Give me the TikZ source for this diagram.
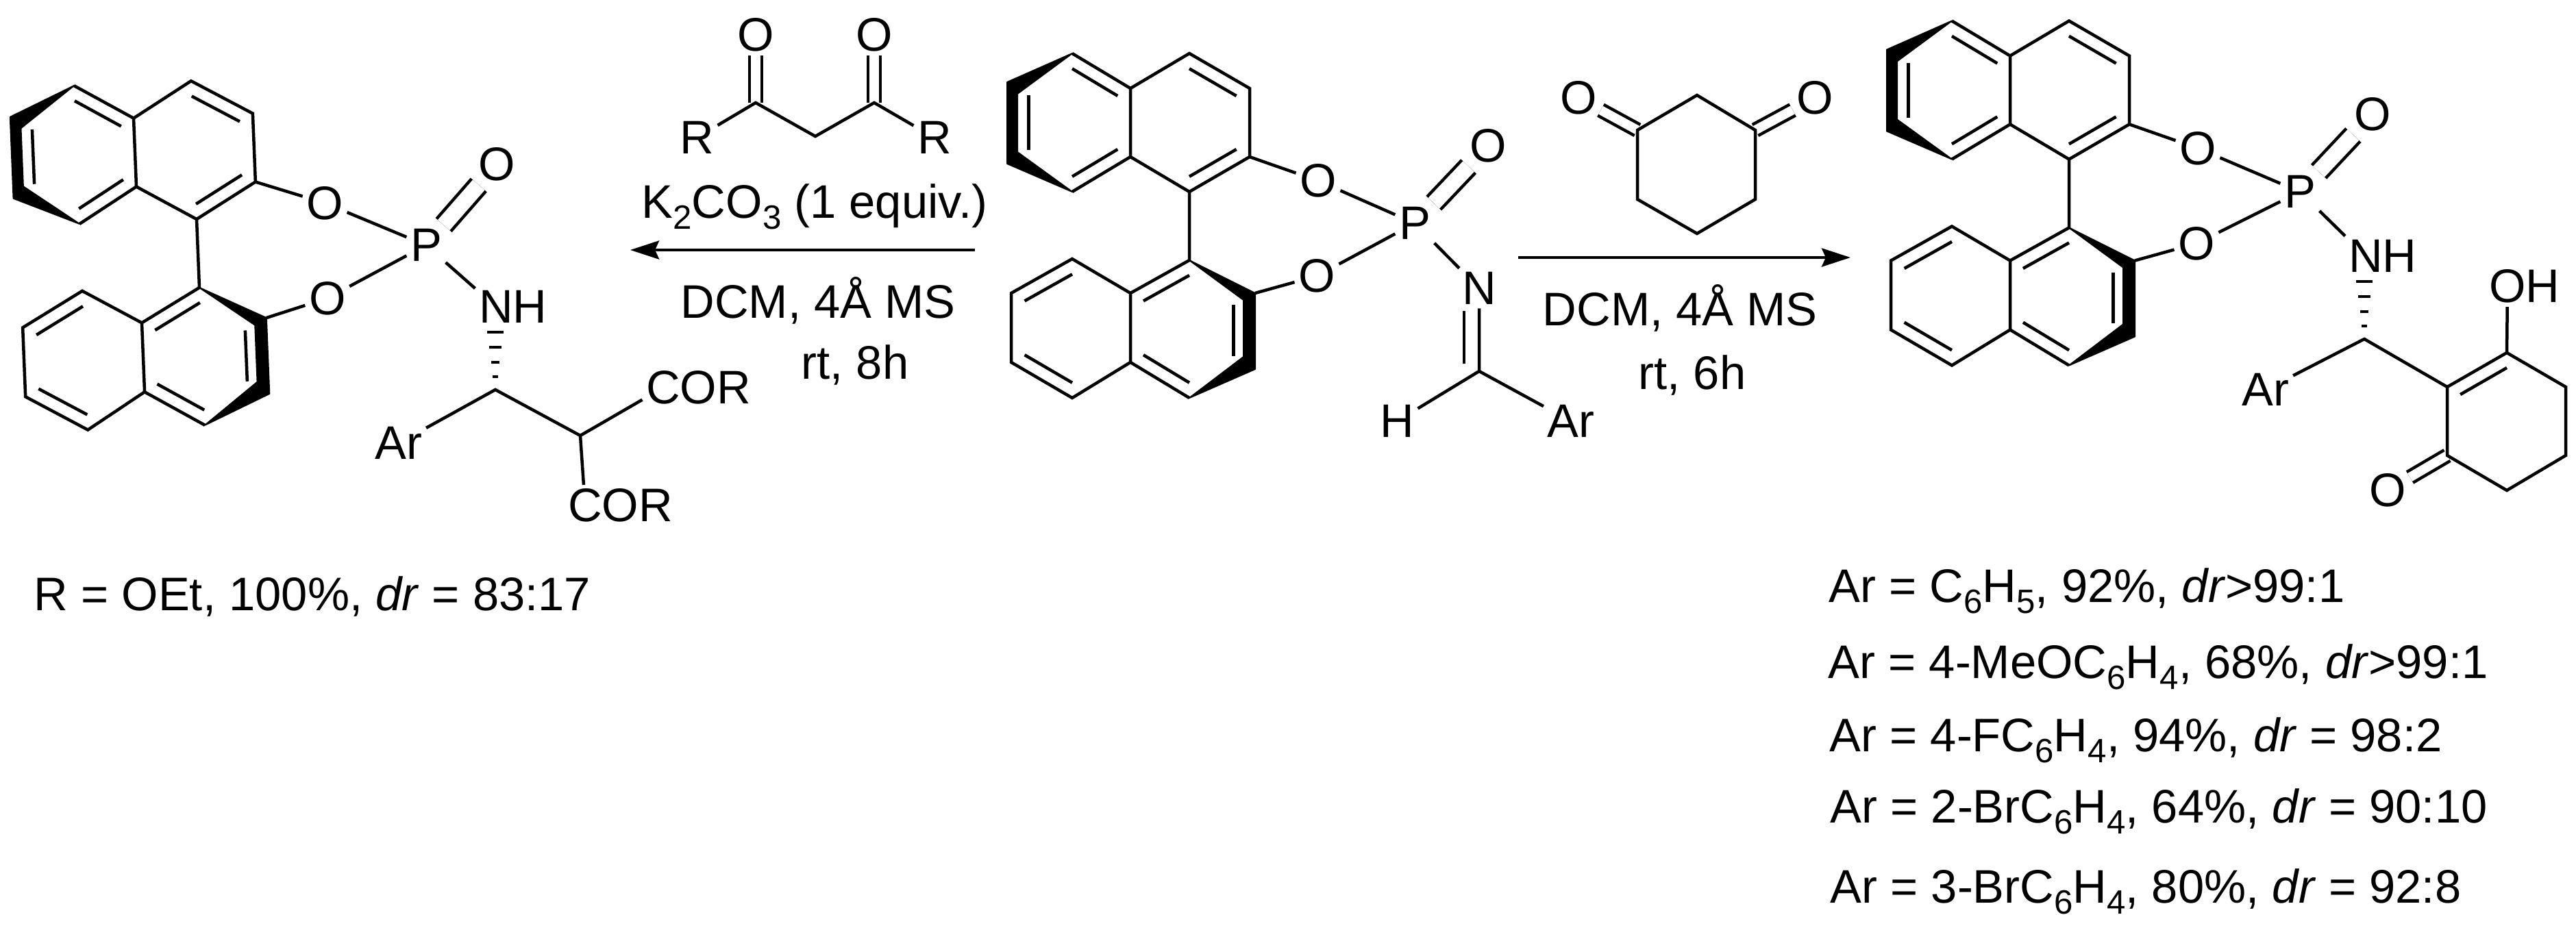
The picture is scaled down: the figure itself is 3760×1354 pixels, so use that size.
\documentclass[tikz,border=0pt]{standalone}
\usepackage{fontspec}
\setmainfont{Liberation Sans}
\usepackage{tikz}
\usetikzlibrary{calc}
\usetikzlibrary{arrows.meta}
\newcommand{\chemsub}[1]{\raisebox{-0.16cm}{\fontsize{14}{15}\selectfont #1}}
\newcommand{\innerbond}[4][0.22]{\draw[bond] ($(#2)!#1!(#4)$)--($(#3)!#1!(#4)$);}
\newcommand{\hashbond}[1]{\foreach \dy/\dx in {-84/12,-62/9,-40/6,-19/4}{\draw[hashline] ([shift={(-\dx,\dy)}]#1)--([shift={(\dx,\dy)}]#1);}}
\tikzset{
	bond/.style={line width=0.045cm},
	boldbond/.style={fill,draw,line width=0.02cm,line join=round},
	hashline/.style={line width=0.04cm},
	dblbond/.style={double,double distance=#1,line width=0.045cm},
	dblbond/.default=0.135cm,
	atom/.style={inner sep=0.05cm},
	txt/.style={anchor=base west,inner sep=0pt},
	rxnarrow/.style={line width=0.045cm,-{Stealth[length=0.42cm,width=0.27cm,inset=0.06cm]}},
	binaphthyl/.pic={
		\coordinate (a) at (-171,-252);
		\coordinate (b) at (-266,-210);
		\coordinate (c) at (-266,-91);
		\coordinate (d) at (-171,-50);
		\coordinate (e) at (-86,-101);
		\coordinate (f) at (-86,-201);
		\coordinate (g) at (0,-252);
		\coordinate (h) at (88,-201);
		\coordinate (i) at (88,-101);
		\coordinate (j) at (0,-50);
		\coordinate (k) at (0,50);
		\coordinate (l) at (96,98);
		\coordinate (m) at (96,209);
		\coordinate (n) at (0,251);
		\coordinate (o) at (-86,199);
		\coordinate (p) at (-86,98);
		\coordinate (q) at (-171,48);
		\coordinate (r) at (-260,98);
		\coordinate (s) at (-260,199);
		\coordinate (t) at (-171,251);
		\coordinate (ringa) at (-171,-151);
		\coordinate (ringb) at (0,-151);
		\coordinate (ringc) at (-171,150);
		\coordinate (ringd) at (0,150);
		\coordinate (wedgeb) at (-251,-193);
		\coordinate (wedgec) at (-251,-108);
		\coordinate (wedgel) at (79,108);
		\coordinate (wedgem) at (79,191);
		\node[atom] (oa) at (188,-66) {O};
		\node[atom] (ob) at (186,73) {O};
		\path[boldbond] (a)--(b)--(c)--(d)--(wedgec)--(wedgeb)--cycle;
		\path[boldbond] (k)--(l)--(m)--(n)--(wedgem)--(wedgel)--cycle;
		\draw[bond] (a)--(f)--(e)--(d);
		\draw[bond] (f)--(g)--(h)--(i)--(j)--(e);
		\draw[bond] (j)--(k)--(p)--(q)--(r)--(s)--(t)--(o)--(p);
		\draw[bond] (o)--(n);
		\draw[bond] (i)--(oa);
		\draw[bond] (l)--(ob);
		\innerbond{a}{f}{ringa}
		\innerbond{e}{d}{ringa}
		\innerbond[0.33]{b}{c}{ringa}
		\innerbond{g}{h}{ringb}
		\innerbond{i}{j}{ringb}
		\innerbond{q}{r}{ringc}
		\innerbond{s}{t}{ringc}
		\innerbond{k}{p}{ringd}
		\innerbond[0.33]{l}{m}{ringd}
		\innerbond{o}{n}{ringd}
	},
}
\begin{document}
\begin{tikzpicture}[x=0.01cm,y=-0.01cm,font=\fontsize{19.55}{23}\selectfont]
	\useasboundingbox (0,0) rectangle (3760,1354);
	% left product
	\pic[rotate=2.3] (lft) at (289,370) {binaphthyl};
	\node[atom] (lftp) at (622,358) {P};
	\node[atom] (lftoxo) at (725,240) {O};
	\node[atom] (lftnh) at (724,448) {N\rlap{H}};
	\coordinate (lftch) at (723,569);
	\coordinate (lftcm) at (847,636);
	\node[atom] (lftar) at (582,647) {Ar};
	\node[atom] (lftcora) at (968,566) {C\rlap{OR}};
	\node[atom] (lftcorb) at (854,738) {C\rlap{OR}};
	\draw[dblbond=0.23cm] (lftp)--(lftoxo);
	\draw[bond] (lftoa)--(lftp)--(lftob);
	\draw[bond] (lftp)--(lftnh);
	\hashbond{lftch}
	\draw[bond] (lftar)--(lftch)--(lftcm)--(lftcora);
	\draw[bond] (lftcm)--(lftcorb);
	\node[txt] (lftres) at (49,891) {R = OEt, 100\%, \textit{dr} = 83:17};
	% left reagent
	\coordinate (kca) at (1103,150);
	\coordinate (kcb) at (1190,199);
	\coordinate (kcc) at (1276,150);
	\node[atom] (koa) at (1103,51) {O};
	\node[atom] (kob) at (1276,51) {O};
	\node[atom] (kra) at (1017,201) {R};
	\node[atom] (krb) at (1364,201) {R};
	\draw[dblbond] (koa)--(kca);
	\draw[dblbond] (kob)--(kcc);
	\draw[bond] (kra)--(kca)--(kcb)--(kcc)--(krb);
	\node[txt] (ktxta) at (936,318) {K\chemsub{2}CO\chemsub{3} (1 equiv.)};
	\coordinate (larrowa) at (1423,365);
	\coordinate (larrowb) at (920,365);
	\draw[rxnarrow] (larrowa)--(larrowb);
	\node[txt] (ktxtb) at (993,464) {DCM, 4Å MS};
	\node[txt] (ktxtc) at (1169,553) {rt, 8h};
	% middle imine
	\pic (mid) at (1736,330) {binaphthyl};
	\node[atom] (midp) at (2065,326) {P};
	\node[atom] (midoxo) at (2172,213) {O};
	\node[atom] (midn) at (2159,421) {N};
	\coordinate (midc) at (2159,542);
	\coordinate (midna) at (2137,454);
	\coordinate (midnb) at (2137,531);
	\node[atom] (midh) at (2039,615) {H};
	\node[atom] (midar) at (2293,615) {Ar};
	\draw[dblbond=0.225cm] (midp)--(midoxo);
	\draw[bond] (midoa)--(midp)--(midob);
	\draw[bond] (midp)--(midn)--(midc);
	\draw[bond] (midna)--(midnb);
	\draw[bond] (midh)--(midc)--(midar);
	% right reagent
	\coordinate (da) at (2477,139);
	\coordinate (db) at (2562,190);
	\coordinate (dc) at (2562,291);
	\coordinate (dd) at (2477,341);
	\coordinate (de) at (2390,291);
	\coordinate (df) at (2390,190);
	\node[atom] (doa) at (2304,143) {O};
	\node[atom] (dob) at (2649,143) {O};
	\draw[dblbond] (doa)--(df);
	\draw[dblbond] (dob)--(db);
	\draw[bond] (da)--(db)--(dc)--(dd)--(de)--(df)--cycle;
	\coordinate (rarrowa) at (2216,376);
	\coordinate (rarrowb) at (2701,376);
	\draw[rxnarrow] (rarrowa)--(rarrowb);
	\node[txt] (dtxta) at (2251,475) {DCM, 4Å MS};
	\node[txt] (dtxtb) at (2391,568) {rt, 6h};
	% right product
	\pic (rgt) at (3020,282.5) {binaphthyl};
	\node[atom] (rgtp) at (3357,280) {P};
	\node[atom] (rgtoxo) at (3463,167) {O};
	\node[atom] (rgtnh) at (3453,374) {N\rlap{H}};
	\coordinate (rgtch) at (3451,495);
	\node[atom] (rgtar) at (3307,569) {Ar};
	\coordinate (ra) at (3572,565);
	\coordinate (rb) at (3659,515);
	\coordinate (rc) at (3745,565);
	\coordinate (rd) at (3745,665);
	\coordinate (re) at (3659,716);
	\coordinate (rf) at (3572,665);
	\coordinate (rring) at (3659,615);
	\node[atom] (roh) at (3660,418) {O\rlap{H}};
	\node[atom] (roxo) at (3485,716) {O};
	\draw[dblbond=0.23cm] (rgtp)--(rgtoxo);
	\draw[dblbond] (roxo)--(rf);
	\draw[bond] (rgtoa)--(rgtp)--(rgtob);
	\draw[bond] (rgtp)--(rgtnh);
	\hashbond{rgtch}
	\draw[bond] (rgtar)--(rgtch)--(ra);
	\draw[bond] (ra)--(rb)--(rc)--(rd)--(re)--(rf)--cycle;
	\draw[bond] (rb)--(roh);
	\innerbond{ra}{rb}{rring}
	% substrate list
	\node[txt] (resa) at (2669,879) {Ar = C\chemsub{6}H\chemsub{5}, 92\%, \textit{dr}>99:1};
	\node[txt] (resb) at (2668,990) {Ar = 4-MeOC\chemsub{6}H\chemsub{4}, 68\%, \textit{dr}>99:1};
	\node[txt] (resc) at (2670,1097) {Ar = 4-FC\chemsub{6}H\chemsub{4}, 94\%, \textit{dr} = 98:2};
	\node[txt] (resd) at (2671,1201) {Ar = 2-BrC\chemsub{6}H\chemsub{4}, 64\%, \textit{dr} = 90:10};
	\node[txt] (rese) at (2671,1318) {Ar = 3-BrC\chemsub{6}H\chemsub{4}, 80\%, \textit{dr} = 92:8};
\end{tikzpicture}
\end{document}
